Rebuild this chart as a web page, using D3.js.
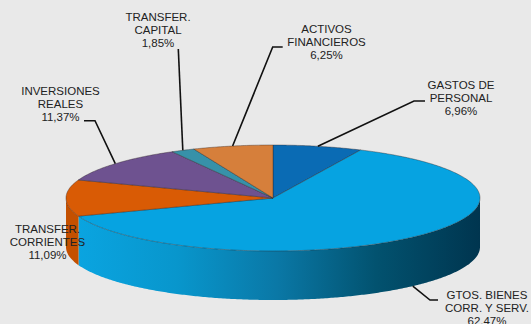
<!DOCTYPE html>
<html>
<head>
<meta charset="utf-8">
<script src="https://cdn.jsdelivr.net/npm/d3@7"></script>
<style>
  html, body { margin: 0; padding: 0; background: #e9e9e9; }
  svg { display: block; }
</style>
</head>
<body>
<svg id="chart" width="531" height="324"></svg>
<script>
// Budget breakdown by chapter (% of total)
const categories = [
  "GASTOS DE PERSONAL",
  "GTOS. BIENES CORR. Y SERV.",
  "TRANSFER. CORRIENTES",
  "INVERSIONES REALES",
  "TRANSFER. CAPITAL",
  "ACTIVOS FINANCIEROS"
];
const shares = [6.96, 62.47, 11.09, 11.37, 1.85, 6.25];
const labelLines = [
  ["GASTOS DE", "PERSONAL"],
  ["GTOS. BIENES", "CORR. Y SERV."],
  ["TRANSFER.", "CORRIENTES"],
  ["INVERSIONES", "REALES"],
  ["TRANSFER.", "CAPITAL"],
  ["ACTIVOS", "FINANCIEROS"]
];

// Styling
const topColors  = ["#0a6bb4", "#06a3e1", "#d95b05", "#6e5290", "#3791a9", "#d67f3b"];
const wallColors = ["#08578f", "url(#wallBlue)", "#c45000", "#584073", "#2b7488", "#b8692e"];

// Ellipse geometry of the 3D disc
const cx = 273, cy = 198, rx = 207, ry = 53, depth = 49;

// Label placement: centre of first text line and leader elbow points
const labelLayout = [
  { x: 461,   y: 85,   leader: [[425, 101], [414, 101]] },
  { x: 487,   y: 295,  leader: [[438, 300], [430, 300]] },
  { x: 47.5,  y: 229,  leader: null },
  { x: 60.5,  y: 91,   leader: [[84, 120.7], [95, 120.7]] },
  { x: 158,   y: 17,   leader: [[178.3, 49]] },
  { x: 326.5, y: 29.3, leader: [[282.7, 47], [272.7, 47]] }
];
const lineStep = 13;

const fmt = v => d3.format(".2f")(v).replace(".", ",") + "%";

const svg = d3.select("#chart");

// Background
svg.append("rect").attr("width", 531).attr("height", 324).attr("fill", "#e9e9e9");

// Side shading for the large slice
const defs = svg.append("defs");
const grad = defs.append("linearGradient")
  .attr("id", "wallBlue")
  .attr("gradientUnits", "userSpaceOnUse")
  .attr("x1", cx - rx).attr("x2", cx + rx)
  .attr("y1", 0).attr("y2", 0);
[[0.03, "#0aa4e0"], [0.27, "#0896cc"], [0.51, "#0a78a6"], [0.75, "#02526f"], [1.0, "#00354f"]]
  .forEach(([o, c]) => grad.append("stop").attr("offset", o).attr("stop-color", c));

const pie = d3.pie().sort(null).startAngle(0).endAngle(2 * Math.PI);
const arcs = pie(shares);

// Project an angle (clockwise from 12 o'clock) onto the ellipse
const pt = (a, dy = 0) => [cx + rx * Math.sin(a), cy - ry * Math.cos(a) + dy];
const sample = (a0, a1) => {
  const n = Math.max(2, Math.ceil(Math.abs(a1 - a0) / 0.01));
  return d3.range(n + 1).map(i => a0 + (a1 - a0) * i / n);
};
const line = d3.line();

// Front walls (only the half facing the viewer)
const gWalls = svg.append("g");
arcs.forEach((d, i) => {
  const s = Math.max(d.startAngle, Math.PI / 2);
  const e = Math.min(d.endAngle, 3 * Math.PI / 2);
  if (s >= e) return;
  const top = sample(s, e).map(a => pt(a));
  const bottom = sample(e, s).map(a => pt(a, depth));
  gWalls.append("path")
    .attr("d", line(top.concat(bottom)) + "Z")
    .attr("fill", wallColors[i]);
});

// Top faces
const gTop = svg.append("g");
arcs.forEach((d, i) => {
  const pts = [[cx, cy]].concat(sample(d.startAngle, d.endAngle).map(a => pt(a)));
  gTop.append("path")
    .attr("d", line(pts) + "Z")
    .attr("fill", topColors[i])
    .attr("stroke", "rgba(45,35,35,0.55)")
    .attr("stroke-width", 0.7)
    .attr("stroke-linejoin", "round");
});

// Leader lines
const gLead = svg.append("g");
arcs.forEach((d, i) => {
  const L = labelLayout[i];
  if (!L.leader) return;
  const mid = (d.startAngle + d.endAngle) / 2;
  const front = Math.cos(mid) < 0;
  const anchor = pt(mid, front ? depth : 0);
  gLead.append("path")
    .attr("d", line(L.leader.concat([anchor])))
    .attr("fill", "none")
    .attr("stroke", "#111")
    .attr("stroke-width", 1.6);
});

// Labels
const gLab = svg.append("g")
  .attr("font-family", "'Liberation Sans', Arial, sans-serif")
  .attr("font-size", "11.5px")
  .attr("fill", "#222")
  .attr("text-anchor", "middle");
arcs.forEach((d, i) => {
  const L = labelLayout[i];
  const lines = labelLines[i].concat([fmt(shares[i])]);
  const t = gLab.append("text");
  lines.forEach((s, k) => {
    t.append("tspan")
      .attr("x", L.x)
      .attr("y", L.y + k * lineStep + 4.1)
      .text(s);
  });
});
</script>
</body>
</html>
